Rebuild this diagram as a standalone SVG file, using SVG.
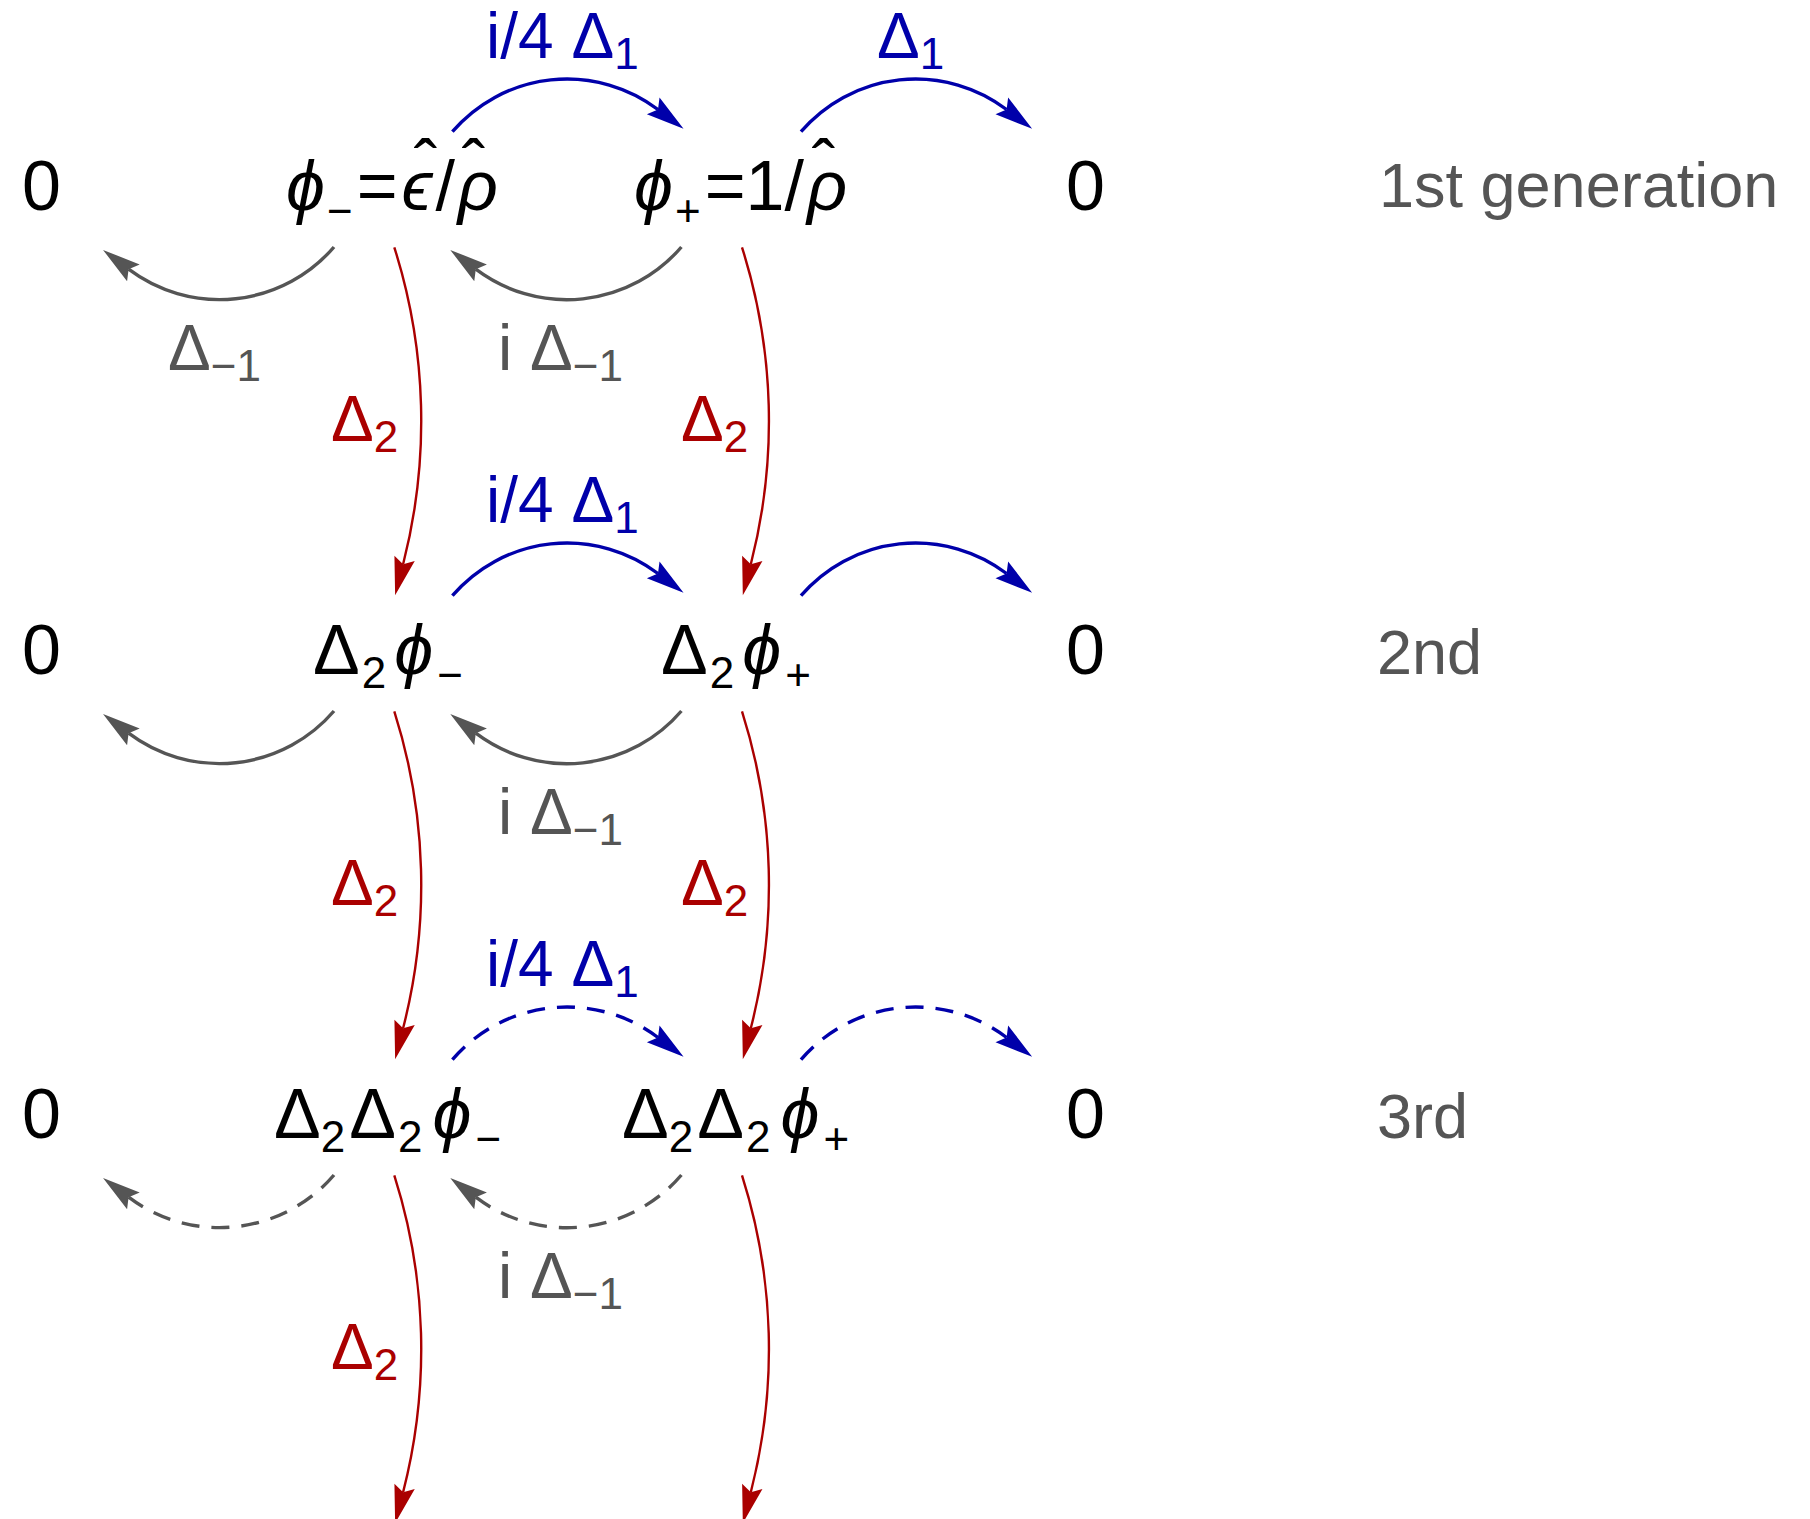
<svg xmlns="http://www.w3.org/2000/svg" width="1810" height="1519" viewBox="0 0 1810 1519">
<style>
text{font-family:"Liberation Sans","DejaVu Sans",sans-serif;}
.node{font-size:70px;fill:#000;}
.sub{font-size:44px;}
.it{font-style:italic;}
.lab{font-size:64px;}
.ls{font-size:44px;}
.blue{fill:#0000aa;}
.gray{fill:#555555;}
.red{fill:#aa0000;}
.gen{font-size:63px;fill:#555555;}
.cb{fill:none;stroke:#0000aa;stroke-width:3.4;marker-end:url(#mb);}
.cg{fill:none;stroke:#555555;stroke-width:3.4;marker-end:url(#mg);}
.cr{fill:none;stroke:#aa0000;stroke-width:2.4;marker-end:url(#mr);}
.dash{stroke-dasharray:18 12;}
</style>
<defs>
<marker id="mb" markerUnits="userSpaceOnUse" viewBox="-8 -12 42 24" refX="0" refY="0" markerWidth="42" markerHeight="24" orient="auto" overflow="visible"><path d="M32,0 L-6,-10.5 L0,0 L-6,10.5 Z" fill="#0000aa"/></marker>
<marker id="mg" markerUnits="userSpaceOnUse" viewBox="-8 -12 42 24" refX="0" refY="0" markerWidth="42" markerHeight="24" orient="auto" overflow="visible"><path d="M32,0 L-6,-10.5 L0,0 L-6,10.5 Z" fill="#555555"/></marker>
<marker id="mr" markerUnits="userSpaceOnUse" viewBox="-8 -12 42 24" refX="0" refY="0" markerWidth="42" markerHeight="24" orient="auto" overflow="visible"><path d="M32,0 L-6,-10.5 L0,0 L-6,10.5 Z" fill="#aa0000"/></marker>
</defs>

<g id="connectors">
<path class="cb" d="M452.4,131.7 A151,151 0 0 1 658,109.5"/>
<path class="cb" d="M801,131.7 A151,151 0 0 1 1006.6,109.5"/>
<path class="cg" d="M334,247 A151,151 0 0 1 128.6,269.2"/>
<path class="cg" d="M681.4,247 A151,151 0 0 1 475.8,269.2"/>
<path class="cr" d="M394.3,247.3 A574,574 0 0 1 403.1,564.2"/>
<path class="cr" d="M742,247.3 A574,574 0 0 1 750.8,564.2"/>
<path class="cb" d="M452.4,595.7 A151,151 0 0 1 658,573.5"/>
<path class="cb" d="M801,595.7 A151,151 0 0 1 1006.6,573.5"/>
<path class="cg" d="M334,711 A151,151 0 0 1 128.6,733.2"/>
<path class="cg" d="M681.4,711 A151,151 0 0 1 475.8,733.2"/>
<path class="cr" d="M394.3,711.3 A574,574 0 0 1 403.1,1028.2"/>
<path class="cr" d="M742,711.3 A574,574 0 0 1 750.8,1028.2"/>
<path class="cb dash" d="M452.4,1059.7 A151,151 0 0 1 658,1037.5"/>
<path class="cb dash" d="M801,1059.7 A151,151 0 0 1 1006.6,1037.5"/>
<path class="cg dash" d="M334,1175 A151,151 0 0 1 128.6,1197.2"/>
<path class="cg dash" d="M681.4,1175 A151,151 0 0 1 475.8,1197.2"/>
<path class="cr" d="M394.3,1175.3 A574,574 0 0 1 403.1,1492.2"/>
<path class="cr" d="M742,1175.3 A574,574 0 0 1 750.8,1492.2"/>
</g>

<g id="edge-labels">
<text class="lab blue" x="486" y="58">i/4 Δ<tspan class="ls" dy="11">1</tspan></text>
<text class="lab blue" x="877" y="58">Δ<tspan class="ls" dy="11">1</tspan></text>
<text class="lab gray" x="168" y="370">Δ<tspan class="ls" dy="11">−1</tspan></text>
<text class="lab gray" x="498" y="370">i Δ<tspan class="ls" dy="11">−1</tspan></text>
<text class="lab red" x="331" y="441">Δ<tspan class="ls" dy="11">2</tspan></text>
<text class="lab red" x="681" y="441">Δ<tspan class="ls" dy="11">2</tspan></text>
<text class="lab blue" x="486" y="522">i/4 Δ<tspan class="ls" dy="11">1</tspan></text>
<text class="lab gray" x="498" y="834">i Δ<tspan class="ls" dy="11">−1</tspan></text>
<text class="lab red" x="331" y="905">Δ<tspan class="ls" dy="11">2</tspan></text>
<text class="lab red" x="681" y="905">Δ<tspan class="ls" dy="11">2</tspan></text>
<text class="lab blue" x="486" y="986">i/4 Δ<tspan class="ls" dy="11">1</tspan></text>
<text class="lab gray" x="498" y="1298">i Δ<tspan class="ls" dy="11">−1</tspan></text>
<text class="lab red" x="331" y="1369">Δ<tspan class="ls" dy="11">2</tspan></text>
</g>

<g id="node-r1-left0"><text class="node" x="22" y="210">0</text></g>
<g id="node-r1-phim"><text class="node" x="286" y="210"><tspan class="it">ϕ</tspan><tspan class="sub" dy="16" dx="2">−</tspan><tspan dy="-16" dx="4">=</tspan><tspan class="it" dx="4">ϵ</tspan><tspan dx="3">/</tspan><tspan class="it" dx="3">ρ</tspan><tspan x="414" y="189">ˆ</tspan><tspan x="462" y="189">ˆ</tspan></text></g>
<g id="node-r1-phip"><text class="node" x="634" y="210"><tspan class="it">ϕ</tspan><tspan class="sub" dy="16" dx="2">+</tspan><tspan dy="-16" dx="4">=1/</tspan><tspan class="it" dx="3">ρ</tspan><tspan x="812" y="189">ˆ</tspan></text></g>
<g id="node-r1-right0"><text class="node" x="1066" y="210">0</text></g>

<g id="node-r2-left0"><text class="node" x="22" y="674">0</text></g>
<g id="node-r2-phim"><text class="node" x="313" y="674">Δ<tspan class="sub" dy="14" dx="2">2</tspan><tspan class="it" dy="-14" dx="8">ϕ</tspan><tspan class="sub" dy="16" dx="4">−</tspan></text></g>
<g id="node-r2-phip"><text class="node" x="661" y="674">Δ<tspan class="sub" dy="14" dx="2">2</tspan><tspan class="it" dy="-14" dx="8">ϕ</tspan><tspan class="sub" dy="16" dx="4">+</tspan></text></g>
<g id="node-r2-right0"><text class="node" x="1066" y="674">0</text></g>

<g id="node-r3-left0"><text class="node" x="22" y="1138">0</text></g>
<g id="node-r3-phim"><text class="node" x="274" y="1138">Δ<tspan class="sub" dy="14">2</tspan><tspan dy="-14" dx="4">Δ</tspan><tspan class="sub" dy="14" dx="2">2</tspan><tspan class="it" dy="-14" dx="10">ϕ</tspan><tspan class="sub" dy="16" dx="4">−</tspan></text></g>
<g id="node-r3-phip"><text class="node" x="622" y="1138">Δ<tspan class="sub" dy="14">2</tspan><tspan dy="-14" dx="4">Δ</tspan><tspan class="sub" dy="14" dx="2">2</tspan><tspan class="it" dy="-14" dx="10">ϕ</tspan><tspan class="sub" dy="16" dx="4">+</tspan></text></g>
<g id="node-r3-right0"><text class="node" x="1066" y="1138">0</text></g>

<g id="generation-labels">
<text class="gen" x="1379" y="207">1st generation</text>
<text class="gen" x="1377" y="674">2nd</text>
<text class="gen" x="1377" y="1138">3rd</text>
</g>
</svg>
